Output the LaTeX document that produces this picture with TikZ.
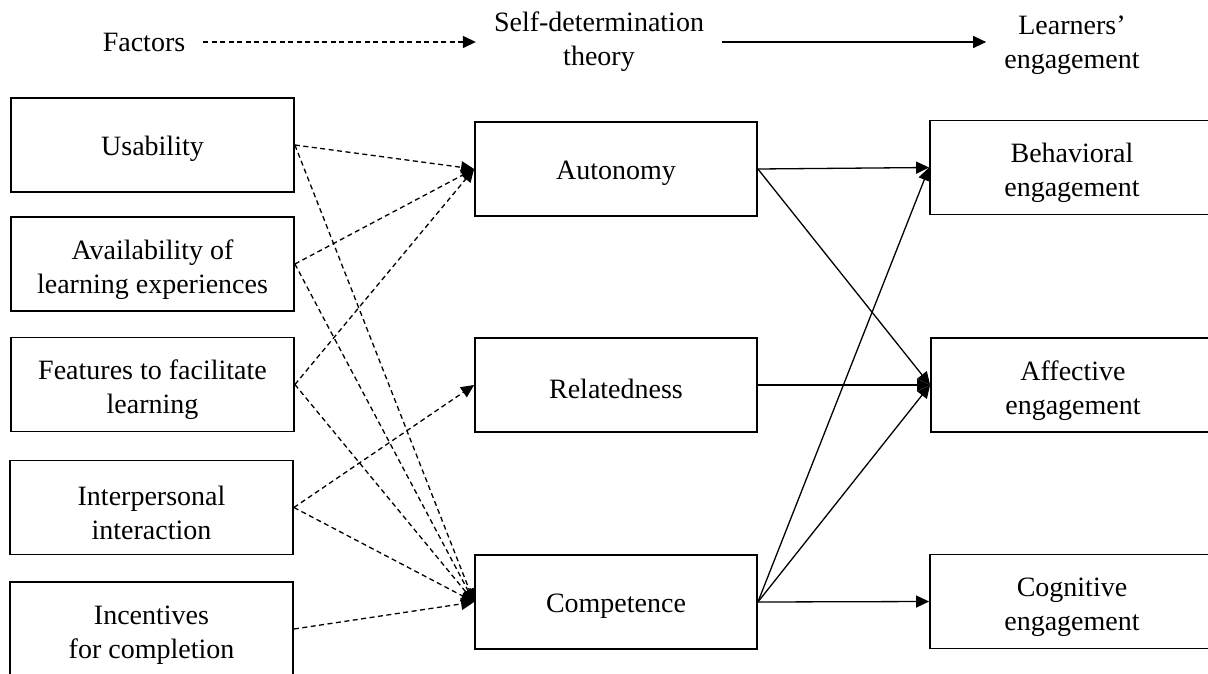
\documentclass[tikz,border=0pt]{standalone}
\usepackage{fontspec}
\setmainfont{Liberation Serif}
\usetikzlibrary{arrows.meta}
\begin{document}
\begin{tikzpicture}[x=1pt,y=-1pt,
  txt/.style={font=\fontsize{28}{34}\selectfont, align=center},
  box/.style={txt, draw, line width=1.8pt, minimum height=94pt, inner sep=0pt,
    execute at begin node={\rule{0pt}{27pt}}},
  two/.style={execute at begin node={\rule{0pt}{65pt}}},
  lbox/.style={box, minimum width=283pt},
  mbox/.style={box, minimum width=282pt},
  rbox/.style={box, minimum width=284pt},
  hdr/.style={txt, inner xsep=18pt, inner ysep=0pt},
  tip/.style={-{Triangle[length=13pt,width=12pt]}},
  dasharr/.style={tip, line width=1.3pt, dash pattern=on 5pt off 3.5pt},
  solarr/.style={tip, line width=1.3pt}]
\useasboundingbox (0,0) rectangle (1208,673);
\fill[white] (0,0) rectangle (1208,673);
% header
\node[hdr] (factors) at (144,42) {Factors};
\node[hdr] (sdt) at (599,42) {Self-determination\\theory};
\node[hdr] (le) at (1072,45) {Learners'\\engagement};
\draw[dasharr] (factors.east) -- (factors.east -| sdt.west);
\draw[solarr] (sdt.east) -- (sdt.east -| le.west);
% left column
\node[lbox] (us) at (152.5,145) {Usability};
\node[lbox,two] (av) at (152.5,264) {Availability of\\learning experiences};
\node[lbox,two] (fe) at (152.5,384.5) {Features to facilitate\\learning};
\node[lbox,two] (ip) at (151.5,507.5) {Interpersonal\\interaction};
\node[lbox,two] (in) at (151.5,629) {Incentives\\for completion};
% middle column
\node[mbox] (au) at (616,169) {Autonomy};
\node[mbox] (re) at (616,385) {Relatedness};
\node[mbox] (co) at (616,602) {Competence};
% right column
\node[rbox,two] (be) at (1072,167.5) {Behavioral\\engagement};
\node[rbox,two] (af) at (1073,385) {Affective\\engagement};
\node[rbox,two] (cg) at (1072,601.5) {Cognitive\\engagement};
% dashed connectors
\draw[dasharr] (us.east) -- (au.west);
\draw[dasharr] (us.east) -- (co.west);
\draw[dasharr] (av.east) -- (au.west);
\draw[dasharr] (av.east) -- (co.west);
\draw[dasharr] (fe.east) -- (au.west);
\draw[dasharr] (fe.east) -- (co.west);
\draw[dasharr] (ip.east) -- (re.west);
\draw[dasharr] (ip.east) -- (co.west);
\draw[dasharr] (in.east) -- (co.west);
% solid connectors
\draw[solarr] (au.east) -- (be.west);
\draw[solarr] (au.east) -- (af.west);
\draw[solarr] (re.east) -- (af.west);
\draw[solarr] (co.east) -- (be.west);
\draw[solarr] (co.east) -- (af.west);
\draw[solarr] (co.east) -- (cg.west);
\end{tikzpicture}
\end{document}
